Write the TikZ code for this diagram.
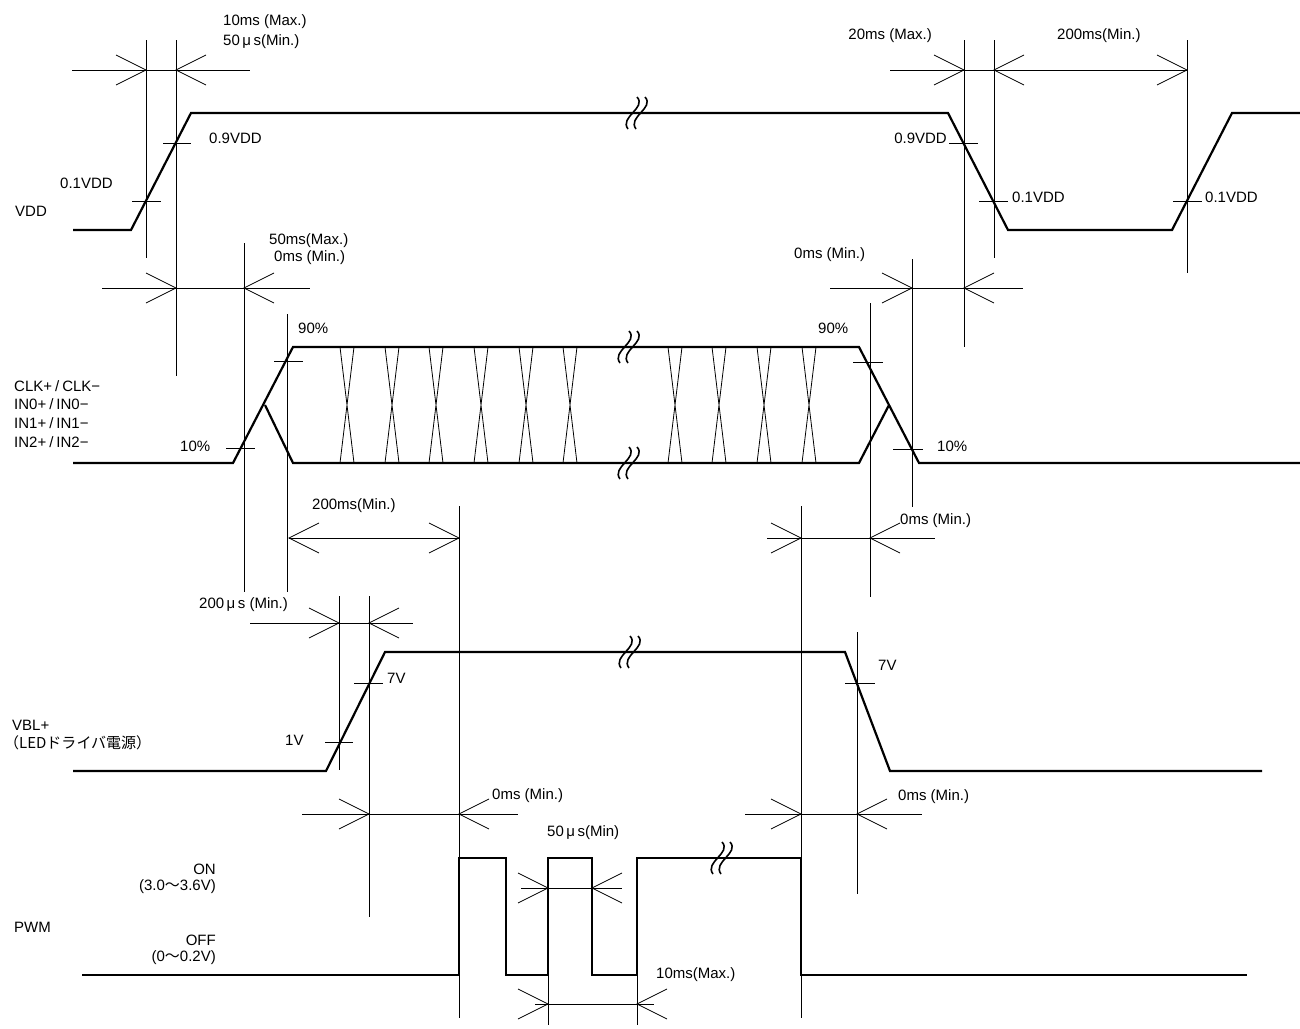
\documentclass[tikz,border=0pt]{standalone}
\usepackage{fontspec}
\setmainfont{Liberation Sans}
\newfontfamily\jp{Noto Sans CJK JP}

\begin{document}
\begin{tikzpicture}[x=1pt, y=-1pt,
  every node/.style={font=\fontsize{15}{17}\selectfont, inner sep=0pt},
  sig/.style={line width=2.2pt, line join=miter},
  thn/.style={line width=0.8pt},
  tipR/.pic={\draw[thn] (-30,-15) -- (0,0) -- (-30,15);},
  tipL/.pic={\draw[thn] (30,-15) -- (0,0) -- (30,15);},
  brk/.pic={\foreach \d in {-4,4}
    \draw[line width=1.6pt] ({\d+5},-16) .. controls ({\d+15},-5) and ({\d-13},4) .. ({\d-4},16);},
]
  \useasboundingbox (0,0) rectangle (1300,1028);

  % signals
  \draw[sig] (73,230) -- (131,230) -- (191,113) -- (948,113) -- (1008,230)
             -- (1172,230) -- (1232,113) -- (1300,113);
  \draw[sig] (73,463) -- (233,463) -- (293,347) -- (859,347) -- (919,463) -- (1300,463);
  \draw[sig] (265,405) -- (293,463) -- (859,463) -- (889,405);
  \draw[sig] (73,771) -- (326,771) -- (385,652) -- (845,652) -- (890,771) -- (1262,771);
  \draw[sig] (82,975) -- (459,975) -- (459,858) -- (506,858) -- (506,975) -- (548,975)
             -- (548,858) -- (592,858) -- (592,975) -- (637,975) -- (637,858)
             -- (801,858) -- (801,975) -- (1247,975);

  % data crossings
  \foreach \c in {347,392,436,481,526,570,675,719,764,809}
    \draw[thn] (\c-7,347) -- (\c+7,463) (\c+7,347) -- (\c-7,463);

  % breaks
  \foreach \p in {(636,113),(628,347),(628,463),(629,652),(721,858)}
    \pic at \p {brk};

  % level ticks
  \draw[thn] (132,201) -- (161,201)  (163,143) -- (191,143)
             (949,143) -- (978,143)  (979,201) -- (1008,201)  (1173,201) -- (1202,201)
             (226,448) -- (255,448)  (274,361) -- (303,361)
             (853,362) -- (883,362)  (893,449) -- (923,449)
             (325,742) -- (353,742)  (354,683) -- (383,683)  (845,683) -- (875,683);

  % extension lines
  \draw[thn] (146,40) -- (146,258)  (176,40) -- (176,376)
             (964,40) -- (964,347)  (994,40) -- (994,258)  (1187,40) -- (1187,273)
             (244,243) -- (244,592)  (287,314) -- (287,592)
             (870,303) -- (870,597)  (912,259) -- (912,507)
             (459,506) -- (459,1018)  (801,506) -- (801,1018)
             (339,596) -- (339,770)  (369,596) -- (369,917)  (857,632) -- (857,894)
             (548,975) -- (548,1025)  (637,975) -- (637,1025);

  % dimension lines
  \draw[thn] (72,70) -- (250,70)  (890,70) -- (1187,70)
             (102,288) -- (310,288)  (830,288) -- (1023,288)
             (289,538) -- (459,538)  (767,538) -- (935,538)
             (250,623) -- (413,623)
             (302,814) -- (518,814)  (745,814) -- (922,814)
             (521,888) -- (622,888)  (535,1004) -- (654,1004);
  \foreach \p in {(146,70),(964,70),(1187,70),(176,288),(912,288),(459,538),(801,538),
                  (339,623),(369,814),(801,814),(548,888),(548,1004)}
    \pic at \p {tipR};
  \foreach \p in {(176,70),(994,70),(244,288),(964,288),(289,538),(870,538),
                  (369,623),(459,814),(857,814),(592,888),(637,1004)}
    \pic at \p {tipL};

  % labels
  \node[anchor=west] (t1) at (223,22) {10ms (Max.)};
  \node[anchor=west] (t2) at (223,42) {50\,μ\,s(Min.)};
  \node[anchor=west] (v9a) at (209,138) {0.9VDD};
  \node[anchor=west] (v1a) at (60,183) {0.1VDD};
  \node[anchor=west] (vdd) at (15,211) {VDD};
  \node[anchor=east] (t3) at (932,36) {20ms (Max.)};
  \node[anchor=west] (t4) at (1057,36) {200ms(Min.)};
  \node[anchor=east] (v9b) at (947,138) {0.9VDD};
  \node[anchor=west] (v1b) at (1012,197) {0.1VDD};
  \node[anchor=west] (v1c) at (1205,197) {0.1VDD};

  \node[anchor=west] (t5) at (269,241) {50ms(Max.)};
  \node[anchor=west] (t6) at (274,258) {0ms (Min.)};
  \node[anchor=west] (t7) at (794,255) {0ms (Min.)};
  \node[anchor=west] (p9a) at (298,328) {90\%};
  \node[anchor=west] (p9b) at (818,328) {90\%};
  \node[anchor=west] (p1a) at (180,446) {10\%};
  \node[anchor=west] (p1b) at (937,446) {10\%};
  \node[anchor=west] (clk) at (14,386) {CLK+\hspace{3pt}/\hspace{3pt}CLK−};
  \node[anchor=west] (in0) at (14,404) {IN0+\hspace{3pt}/\hspace{3pt}IN0−};
  \node[anchor=west] (in1) at (14,423) {IN1+\hspace{3pt}/\hspace{3pt}IN1−};
  \node[anchor=west] (in2) at (14,442) {IN2+\hspace{3pt}/\hspace{3pt}IN2−};

  \node[anchor=west] (t8) at (312,506) {200ms(Min.)};
  \node[anchor=west] (t9) at (900,521) {0ms (Min.)};
  \node[anchor=west] (t10) at (199,605) {200\,μ\,s (Min.)};
  \node[anchor=west] (v7a) at (387,678) {7V};
  \node[anchor=west] (v1v) at (285,740) {1V};
  \node[anchor=west] (v7b) at (878,665) {7V};
  \node[anchor=west] (vbl) at (12,725) {VBL+};
  \node[anchor=west] (led) at (4,743) {\jp （LEDドライバ電源）};

  \node[anchor=west] (t11) at (492,796) {0ms (Min.)};
  \node[anchor=west] (t12) at (898,797) {0ms (Min.)};
  \node[anchor=west] (t13) at (547,833) {50\,μ\,s(Min)};
  \node[anchor=west] (t14) at (656,975) {10ms(Max.)};
  \node[anchor=east] (on) at (216,869) {ON};
  \node[anchor=east] (onv) at (216,887) {(3.0{\jp 〜}3.6V)};
  \node[anchor=west] (pwm) at (14,927) {PWM};
  \node[anchor=east] (off) at (216,940) {OFF};
  \node[anchor=east] (offv) at (216,958) {(0{\jp 〜}0.2V)};
\end{tikzpicture}
\end{document}
